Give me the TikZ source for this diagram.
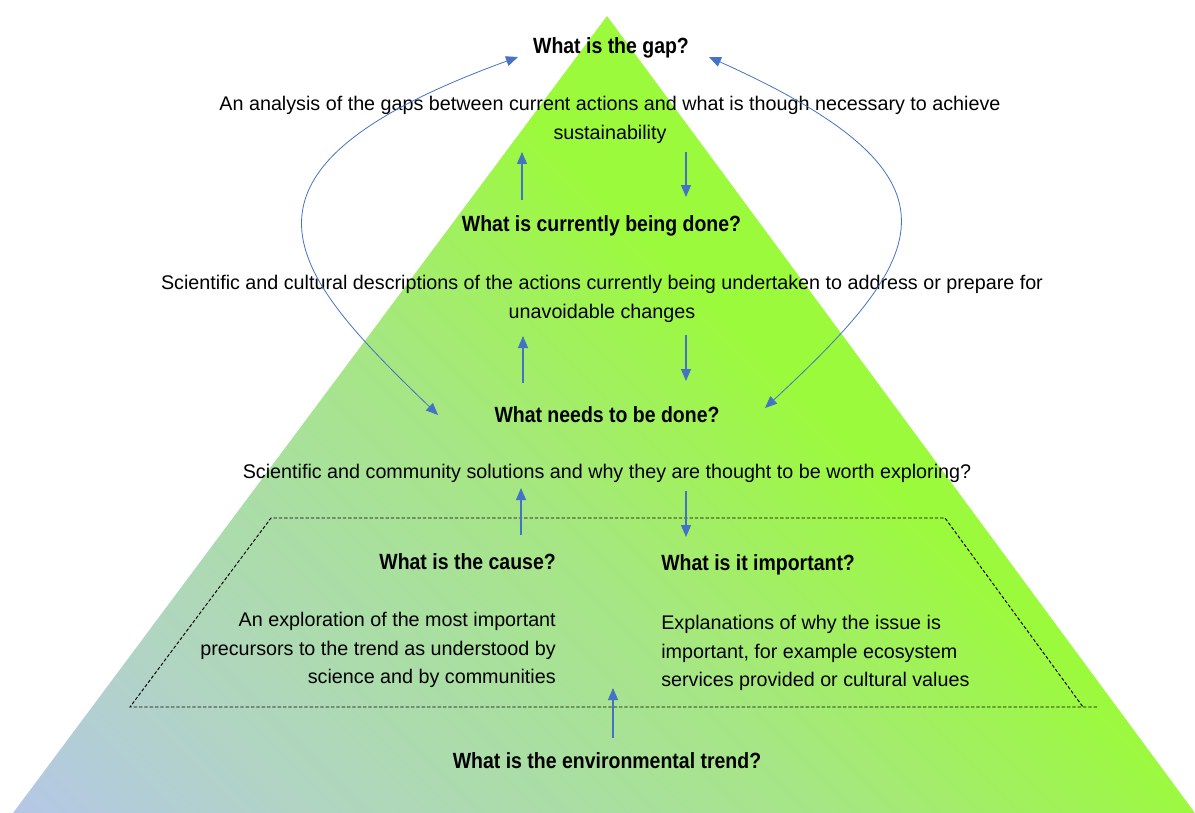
\documentclass[tikz,border=0pt]{standalone}
\usepackage{fontspec}
\setmainfont{Liberation Sans}
\usetikzlibrary{arrows.meta}

\definecolor{arrblue}{HTML}{4472C4}
\definecolor{pyrA}{HTML}{B4C7E7}
\definecolor{pyrB}{HTML}{B1D4C4}
\definecolor{pyrC}{HTML}{A9DFA0}
\definecolor{pyrD}{HTML}{A6E684}
\definecolor{pyrE}{HTML}{A1F05E}
\definecolor{pyrF}{HTML}{9CFA3C}

\pgfdeclarehorizontalshading{pyramidshade}{2400bp}{color(0bp)=(pyrA); color(152bp)=(pyrB); color(318bp)=(pyrC); color(432bp)=(pyrD); color(540bp)=(pyrE); color(640bp)=(pyrF); color(800bp)=(pyrF)}

\newcommand{\qhead}[1]{\scalebox{0.885}[1]{\fontsize{16.5}{20}\selectfont\bfseries #1}}

\tikzset{
  qnode/.style={inner sep=0pt, anchor=base},
  txtnode/.style={inner sep=0pt, font=\fontsize{14.8}{21.5}\selectfont},
  arr/.style={arrblue, line width=0.8pt, -{Triangle[length=9pt,width=7.5pt]}},
  cycarr/.style={arrblue, line width=0.6pt, {Triangle[length=9pt,width=7.5pt]}-{Triangle[length=9pt,width=7.5pt]}},
  dashbox/.style={black, line width=0.7pt, dash pattern=on 2.5pt off 1.5pt}
}

\begin{document}
\begin{tikzpicture}[x=0.75pt, y=-0.75pt]
  \useasboundingbox (0,0) rectangle (1195,813);

  % pyramid
  \begin{scope}
    \clip (13,813) -- (607,16) -- (1195,813) -- cycle;
    \node[inner sep=0pt, outer sep=0pt, anchor=west, rotate=45] (shade) at (13,813) {\pgfuseshading{pyramidshade}};
  \end{scope}

  \draw[dashbox] (1097,707) -- (130,707) -- (271,518) -- (945,518) -- (1083,707);

  \node[qnode] (gap) at (611,54) {\qhead{What is the gap?}};
  \node[txtnode, anchor=north, align=center] (ana) at (610,96) {An analysis of the gaps between current actions and what is though necessary to achieve\\ sustainability};
  \node[qnode] (cur) at (601.5,231) {\qhead{What is currently being done?}};
  \node[txtnode, anchor=north, align=center] (desc) at (602,275) {Scientific and cultural descriptions of the actions currently being undertaken to address or prepare for\\ unavoidable changes};
  \node[qnode] (need) at (607,422) {\qhead{What needs to be done?}};
  \node[txtnode, anchor=base] (sol) at (607,478) {Scientific and community solutions and why they are thought to be worth exploring?};
  \node[qnode, anchor=base east] (cause) at (556,569) {\qhead{What is the cause?}};
  \node[txtnode, anchor=north east, align=right] (causetxt) at (556,612) {An exploration of the most important\\ precursors to the trend as understood by\\ science and by communities};
  \node[qnode, anchor=base west] (imp) at (661,570) {\qhead{What is it important?}};
  \node[txtnode, anchor=north west, align=left] (imptxt) at (661,615) {Explanations of why the issue is\\ important, for example ecosystem\\ services provided or cultural values};
  \node[qnode] (trend) at (607,768) {\qhead{What is the environmental trend?}};
  \coordinate (boxin) at (613,688);

  \draw[arr] ([shift={(-79.5,-31)}]cur.base) -- ([shift={(-88,56)}]ana.north);
  \draw[arr] ([shift={(76,56)}]ana.north) -- ([shift={(84.5,-34)}]cur.base);
  \draw[arr] ([shift={(-84,-39)}]need.base) -- ([shift={(-79,61)}]desc.north);
  \draw[arr] ([shift={(84,60)}]desc.north) -- ([shift={(79,-41)}]need.base);
  \draw[arr] ([shift={(-35,-34)}]cause.base east) -- ([shift={(-86,10)}]sol.base);
  \draw[arr] ([shift={(79,13)}]sol.base) -- ([shift={(25,-33)}]imp.base west);
  \draw[arr] ([shift={(6,-30)}]trend.base) -- (boxin);

  \draw[cycarr] ([shift={(-93,3)}]gap.base) .. controls +(-319,116) and +(-145,-140) .. ([shift={(-169,-7)}]need.base);
  \draw[cycarr] ([shift={(98,3)}]gap.base) .. controls +(267,120) and +(165,-153) .. ([shift={(158,-14)}]need.base);
\end{tikzpicture}
\end{document}
